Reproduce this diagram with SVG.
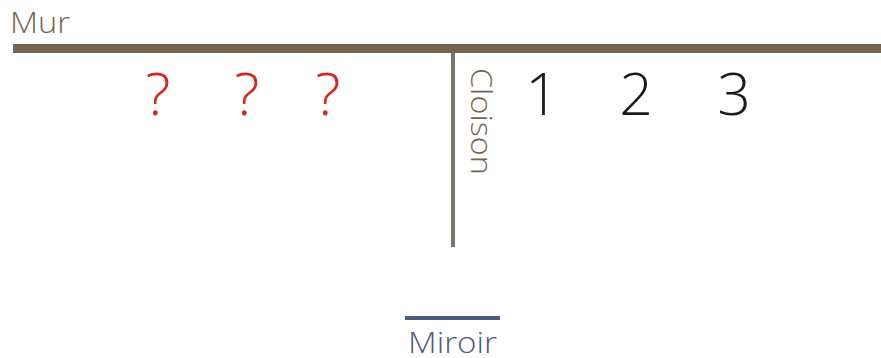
<svg xmlns="http://www.w3.org/2000/svg" width="881" height="358" viewBox="0 0 881 358">
<style>
.t{font-family:"Open Sans","Liberation Sans",sans-serif;font-weight:300}
.big{font-size:59px}
.q{fill:#d9261c}
.n{fill:#1a1a1a}
</style>
<rect width="881" height="358" fill="#fff"/>
<g id="mur">
<rect x="13" y="44" width="868" height="9" fill="#736550"/>
<text class="t" x="10" y="33" font-size="30" fill="#736550" textLength="60" lengthAdjust="spacingAndGlyphs">Mur</text>
</g>
<g id="cloison">
<rect x="451" y="53" width="4" height="194" fill="#767766"/>
<text class="t" transform="translate(471,68) rotate(90)" font-size="29" fill="#736550" textLength="107" lengthAdjust="spacingAndGlyphs">Cloison</text>
</g>
<g id="miroir">
<rect x="405" y="316" width="95" height="4" fill="#4d5b7f"/>
<text class="t" x="408" y="353" font-size="29" fill="#4d5b7f" textLength="89" lengthAdjust="spacingAndGlyphs">Miroir</text>
</g>
<g id="questions">
<text class="t big q" x="158" y="115" text-anchor="middle">?</text>
<text class="t big q" x="247" y="115" text-anchor="middle">?</text>
<text class="t big q" x="328" y="115" text-anchor="middle">?</text>
</g>
<g id="numeros">
<text class="t big n" x="542" y="115" text-anchor="middle">1</text>
<text class="t big n" x="636" y="115" text-anchor="middle">2</text>
<text class="t big n" x="734" y="115" text-anchor="middle">3</text>
</g>
<g id="connectors"/>
</svg>
